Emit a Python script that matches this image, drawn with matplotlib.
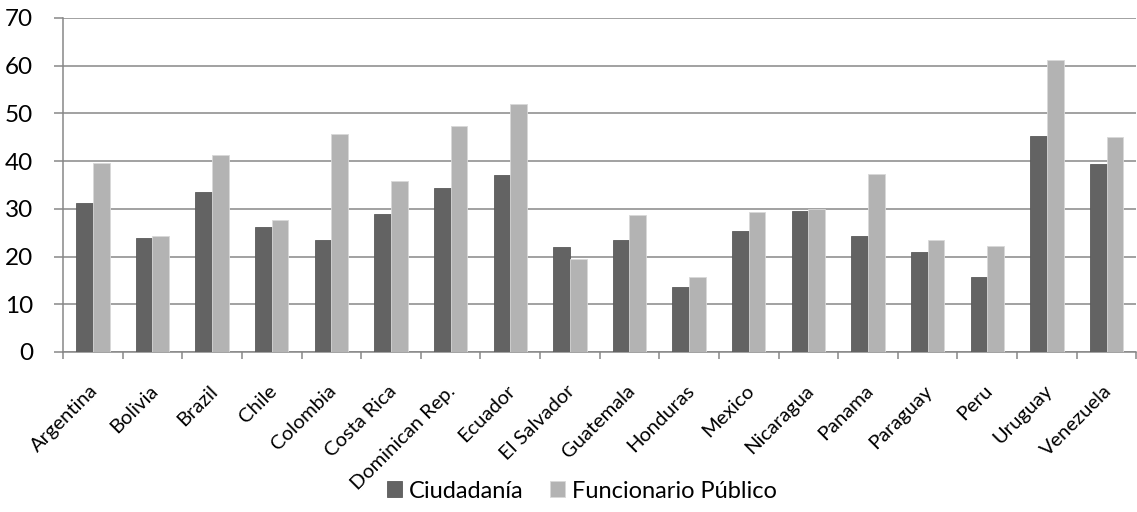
import numpy as np
import matplotlib
matplotlib.use("Agg")
import matplotlib.pyplot as plt

# values
countries = ["Argentina", "Bolivia", "Brazil", "Chile", "Colombia", "Costa Rica",
             "Dominican Rep.", "Ecuador", "El Salvador", "Guatemala", "Honduras",
             "Mexico", "Nicaragua", "Panama", "Paraguay", "Peru", "Uruguay", "Venezuela"]
ciudadania = [31.2, 23.8, 33.5, 26.1, 23.4, 29.0, 34.3, 37.1, 22.1, 23.4, 13.6,
              25.3, 29.5, 24.4, 21.0, 15.8, 45.3, 39.3]
funcionario = [39.6, 24.4, 41.3, 27.6, 45.6, 35.8, 47.3, 52.0, 19.5, 28.7, 15.8,
               29.3, 30.0, 37.3, 23.4, 22.2, 61.2, 45.1]
yticks = [0, 10, 20, 30, 40, 50, 60, 70]

plt.rcParams['font.family'] = ['Lato', 'DejaVu Sans']

dark = "#636363"
light = "#b3b3b3"
grid_col = "#878787"

fig = plt.figure(figsize=(11.37, 5.12), dpi=100)
ax = fig.add_axes([0.0554, 0.3125, 0.944, 0.6525])

x = np.arange(len(countries))
w = 0.28
b1 = ax.bar(x - w / 2, ciudadania, w, color=dark, edgecolor="#5a5a5a", linewidth=0.6,
            label="Ciudadanía", zorder=3)
b2 = ax.bar(x + w / 2, funcionario, w, color=light, edgecolor="#d8d8d8", linewidth=0.6,
            label="Funcionario Público", zorder=3)

ax.set_xlim(-0.5, len(countries) - 0.5)
ax.set_ylim(0, 70)
ax.set_yticks(yticks)
ax.set_yticklabels([str(v) for v in yticks], fontsize=17.5)
ax.yaxis.grid(True, color=grid_col, linewidth=1.1, zorder=0)
ax.set_axisbelow(True)

ax.set_xticks(x + 0.04)
ax.set_xticklabels(countries, rotation=45, ha="right", va="center",
                   rotation_mode="anchor", fontsize=14.5)
ax.set_xticks(np.arange(len(countries) + 1) - 0.5, minor=True)
ax.tick_params(axis="x", which="major", length=0, pad=26)
ax.tick_params(axis="x", which="minor", length=5, color=grid_col, width=1.1)
ax.tick_params(axis="y", length=6.5, color=grid_col, width=1.1, pad=15)

for s in ["top", "right"]:
    ax.spines[s].set_visible(False)
for s in ["left", "bottom"]:
    ax.spines[s].set_color(grid_col)
    ax.spines[s].set_linewidth(1.1)

fig.legend(handles=[b1, b2], loc="center", bbox_to_anchor=(582 / 1137, 1 - 491 / 512),
           ncol=2, frameon=False, fontsize=17, handlelength=0.65, handleheight=0.65,
           handletextpad=0.3, columnspacing=1.1)

fig.savefig("out.png", dpi=100)
